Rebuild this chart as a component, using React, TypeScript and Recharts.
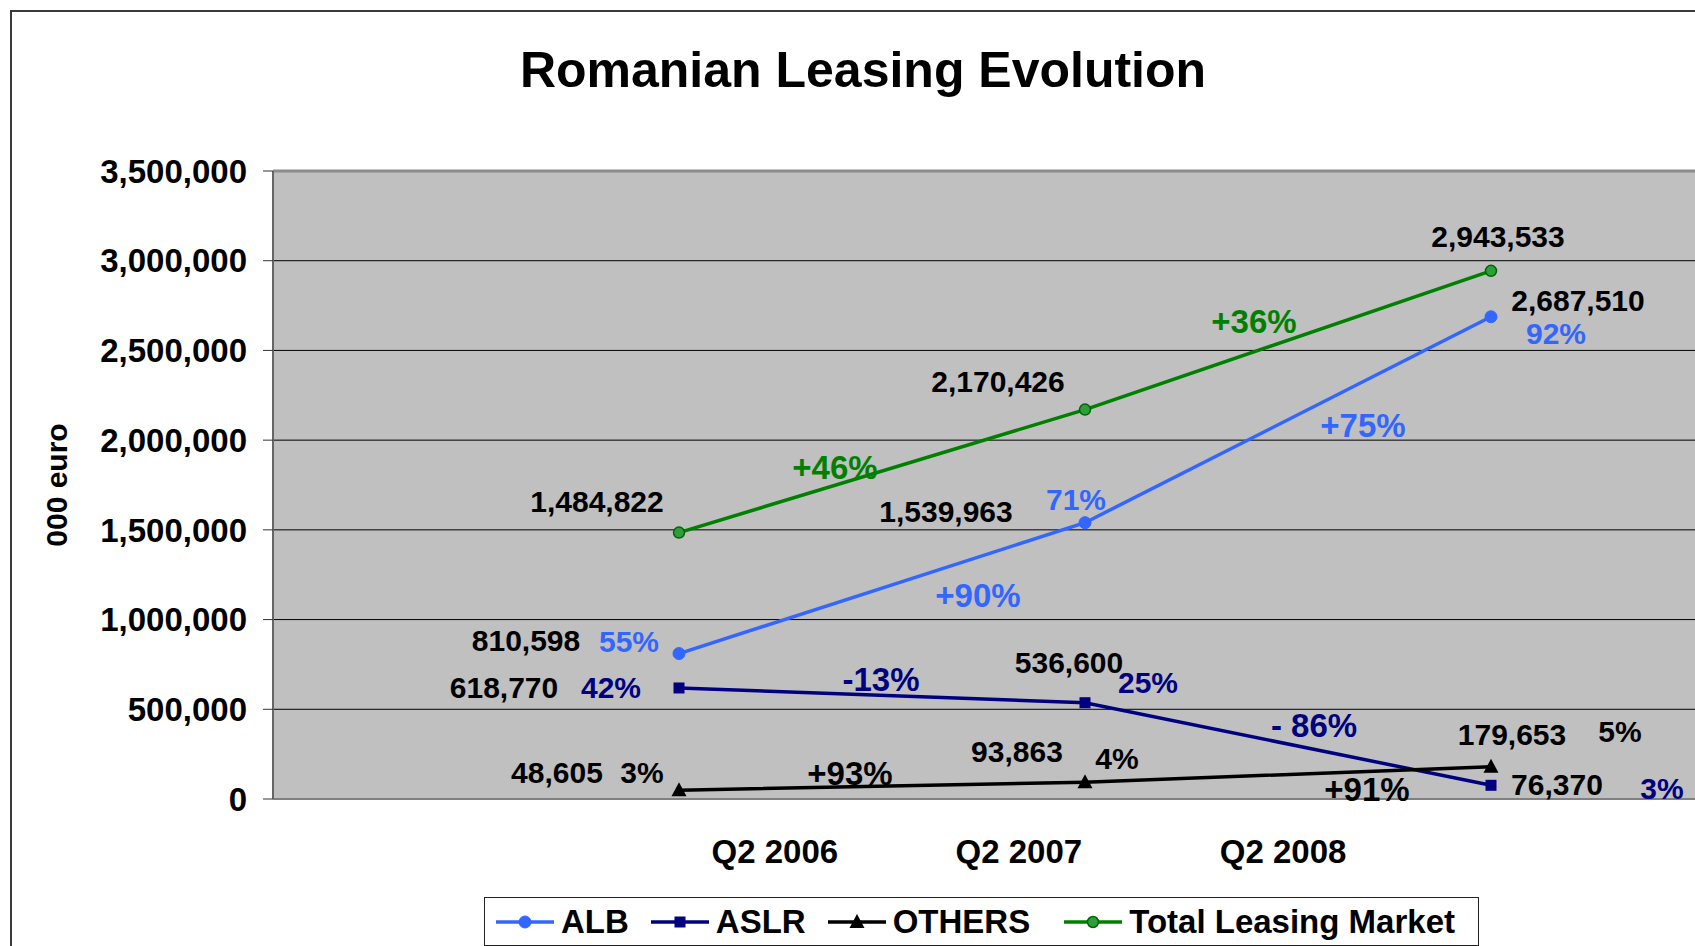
import React from 'react';
import { LineChart, Line, XAxis, YAxis, CartesianGrid, ReferenceDot, ReferenceLine, Legend } from 'recharts';

// ---------- data ----------
const periods = [1, 2, 3];
const quarterLabels = ['Q2 2006', 'Q2 2007', 'Q2 2008'];
const quarterLabelPos = [1.236, 1.837, 2.488];
const albValues = [810598, 1539963, 2687510];
const aslrValues = [618770, 536600, 76370];
const othersValues = [48605, 93863, 179653];
const totalValues = [1484822, 2170426, 2943533];
const albShare = ['55%', '71%', '92%'];
const aslrShare = ['42%', '25%', '3%'];
const othersShare = ['3%', '4%', '5%'];
const albGrowth = ['+90%', '+75%'];
const aslrGrowth = ['-13%', '- 86%'];
const othersGrowth = ['+93%', '+91%'];
const totalGrowth = ['+46%', '+36%'];
const yTicks = [0, 500000, 1000000, 1500000, 2000000, 2500000, 3000000, 3500000];

const data = periods.map((p, i) => ({
  x: p,
  alb: albValues[i],
  aslr: aslrValues[i],
  others: othersValues[i],
  total: totalValues[i],
}));

// ---------- styles ----------
const FONT = '"Liberation Sans", Arial, Helvetica, sans-serif';
const C_ALB = '#3366FF';
const C_ASLR = '#000080';
const C_OTH = '#000000';
const C_TOT = '#008000';

const series = [
  { key: 'alb', name: 'ALB', color: C_ALB, values: albValues, share: albShare, growth: albGrowth,
    valOff: [[-153, -13], [-139, -11], [87, -16]], shareOff: [[-50, -12], [-9, -23], [65, 17]],
    growOff: [[96, 7], [75, 6]], shareColor: C_ALB },
  { key: 'aslr', name: 'ASLR', color: C_ASLR, values: aslrValues, share: aslrShare, growth: aslrGrowth,
    valOff: [[-175, 0], [-16, -40], [66, -1]], shareOff: [[-68, 0], [63, -20], [171, 3]],
    growOff: [[-1, -16], [26, -19]], shareColor: C_ASLR },
  { key: 'others', name: 'OTHERS', color: C_OTH, values: othersValues, share: othersShare, growth: othersGrowth,
    valOff: [[-122, -18], [-68, -31], [21, -32]], shareOff: [[-37, -18], [32, -24], [129, -35]],
    growOff: [[-32, -13], [79, 15]], shareColor: C_OTH },
  { key: 'total', name: 'Total Leasing Market', color: C_TOT, values: totalValues, share: null, growth: totalGrowth,
    valOff: [[-82, -31], [-87, -28], [7, -34]], shareOff: null,
    growOff: [[-47, -4], [-34, -19]], shareColor: C_TOT },
];

const fmt = (v: number) => v.toLocaleString('en-US');

function Marker({ kind, cx, cy, color }: { kind: string; cx: number; cy: number; color: string }) {
  if (kind === 'alb') return <circle cx={cx} cy={cy} r={6} fill={color} stroke={color} strokeWidth={1} />;
  if (kind === 'aslr') return <rect x={cx - 5.5} y={cy - 5.5} width={11} height={11} fill={color} />;
  if (kind === 'others')
    return <polygon points={`${cx},${cy - 8} ${cx + 7.5},${cy + 6} ${cx - 7.5},${cy + 6}`} fill={color} />;
  return <circle cx={cx} cy={cy} r={5.5} fill="#2E9E3A" stroke="#006400" strokeWidth={1.5} />;
}

const txt = (dx: number, dy: number, s: string, color: string, size: number) => (p: any) => (
  <text
    x={p.cx + dx}
    y={p.cy + dy}
    textAnchor="middle"
    dominantBaseline="central"
    fontFamily={FONT}
    fontWeight="bold"
    fontSize={size}
    fill={color}
  >
    {s}
  </text>
);

function LegendBox() {
  return (
    <div
      style={{
        boxSizing: 'border-box',
        width: 995,
        height: 49,
        border: '1.5px solid #222',
        background: '#fff',
        display: 'flex',
        alignItems: 'center',
        paddingLeft: 10,
        fontFamily: FONT,
        fontWeight: 'bold',
        fontSize: 33,
        color: '#000',
        whiteSpace: 'nowrap',
      }}
    >
      {series.map((s, i) => (
        <div key={s.key} style={{ display: 'flex', alignItems: 'center', marginLeft: i === 0 ? 0 : i === 3 ? 33 : 21 }}>
          <svg width={60} height={24} style={{ marginRight: 6 }}>
            <line x1={1} y1={12} x2={59} y2={12} stroke={s.color} strokeWidth={3.5} />
            <Marker kind={s.key} cx={30} cy={12} color={s.color} />
          </svg>
          <span>{s.name}</span>
        </div>
      ))}
    </div>
  );
}

export default function App() {
  const labels: React.ReactNode[] = [];
  series.forEach((s) => {
    s.values.forEach((v, i) => {
      labels.push(
        <ReferenceDot key={`${s.key}-v-${i}`} x={periods[i]} y={v} r={0} ifOverflow="visible"
          shape={txt(s.valOff[i][0], s.valOff[i][1], fmt(v), '#000', 30)} />
      );
      if (s.share && s.shareOff) {
        labels.push(
          <ReferenceDot key={`${s.key}-s-${i}`} x={periods[i]} y={v} r={0} ifOverflow="visible"
            shape={txt(s.shareOff[i][0], s.shareOff[i][1], s.share[i], s.shareColor, 30)} />
        );
      }
    });
    s.growth.forEach((g, i) => {
      labels.push(
        <ReferenceDot key={`${s.key}-g-${i}`} x={(periods[i] + periods[i + 1]) / 2}
          y={(s.values[i] + s.values[i + 1]) / 2} r={0} ifOverflow="visible"
          shape={txt(s.growOff[i][0], s.growOff[i][1], g, s.color, 33)} />
      );
    });
  });

  return (
    <div style={{ position: 'fixed', left: 0, top: 0, width: 1695, height: 946, overflow: 'hidden', background: '#fff', fontFamily: FONT }}>
      <div style={{ position: 'absolute', left: 10, top: 10, width: 2000, height: 2000, border: '2px solid #3a3a3a' }} />
      <div
        style={{
          position: 'absolute', left: 863, top: 70, transform: 'translate(-50%, -50%)',
          fontSize: 50, fontWeight: 'bold', whiteSpace: 'nowrap', color: '#000', fontFamily: FONT,
        }}
      >
        Romanian Leasing Evolution
      </div>
      <div style={{ position: 'absolute', left: 0, top: 0 }}>
        <LineChart width={1920} height={946} data={data} margin={{ top: 171, right: 23, bottom: 87, left: 0 }}>
          <CartesianGrid vertical={false} stroke="#000" strokeWidth={1} fill="#C0C0C0" fillOpacity={1} />
          <XAxis dataKey="x" type="number" domain={[0, 4]} allowDataOverflow ticks={quarterLabelPos}
            interval={0} tickLine={false} tickSize={0} tickMargin={41} height={60}
            axisLine={{ stroke: '#808080', strokeWidth: 2 }}
            tickFormatter={(v: number) => quarterLabels[quarterLabelPos.indexOf(v)] ?? ''}
            tick={{ fontSize: 33, fontWeight: 'bold', fill: '#000', fontFamily: FONT }} />
          <YAxis
            type="number" domain={[0, 3500000]} ticks={yTicks} interval={0} width={273}
            tickSize={10} tickMargin={16} tickFormatter={fmt}
            tick={{ fontSize: 33, fontWeight: 'bold', fill: '#000', fontFamily: FONT }}
            tickLine={{ stroke: '#333' }}
            axisLine={{ stroke: '#666', strokeWidth: 2 }}
            label={({ viewBox }: any) => (
              <text
                x={viewBox.x + 56}
                y={viewBox.y + viewBox.height / 2}
                transform={`rotate(-90, ${viewBox.x + 56}, ${viewBox.y + viewBox.height / 2})`}
                textAnchor="middle" dominantBaseline="central"
                fontFamily={FONT} fontWeight="bold" fontSize={30} fill="#000"
              >
                000 euro
              </text>
            )}
          />
          <ReferenceLine y={3500000} stroke="#8c8c8c" strokeWidth={3} />
          {series.map((s) => (
            <Line key={s.key} dataKey={s.key} name={s.name} stroke={s.color} strokeWidth={3.5}
              isAnimationActive={false}
              dot={(p: any) => <Marker key={`${s.key}-d-${p.index}`} kind={s.key} cx={p.cx} cy={p.cy} color={s.color} />}
              activeDot={false} />
          ))}
          {labels}
          <Legend layout="horizontal" verticalAlign="middle" align="center"
            wrapperStyle={{ position: 'absolute', left: 484, top: 897, width: 995, height: 49 }}
            content={() => <LegendBox />} />
        </LineChart>
      </div>
    </div>
  );
}
